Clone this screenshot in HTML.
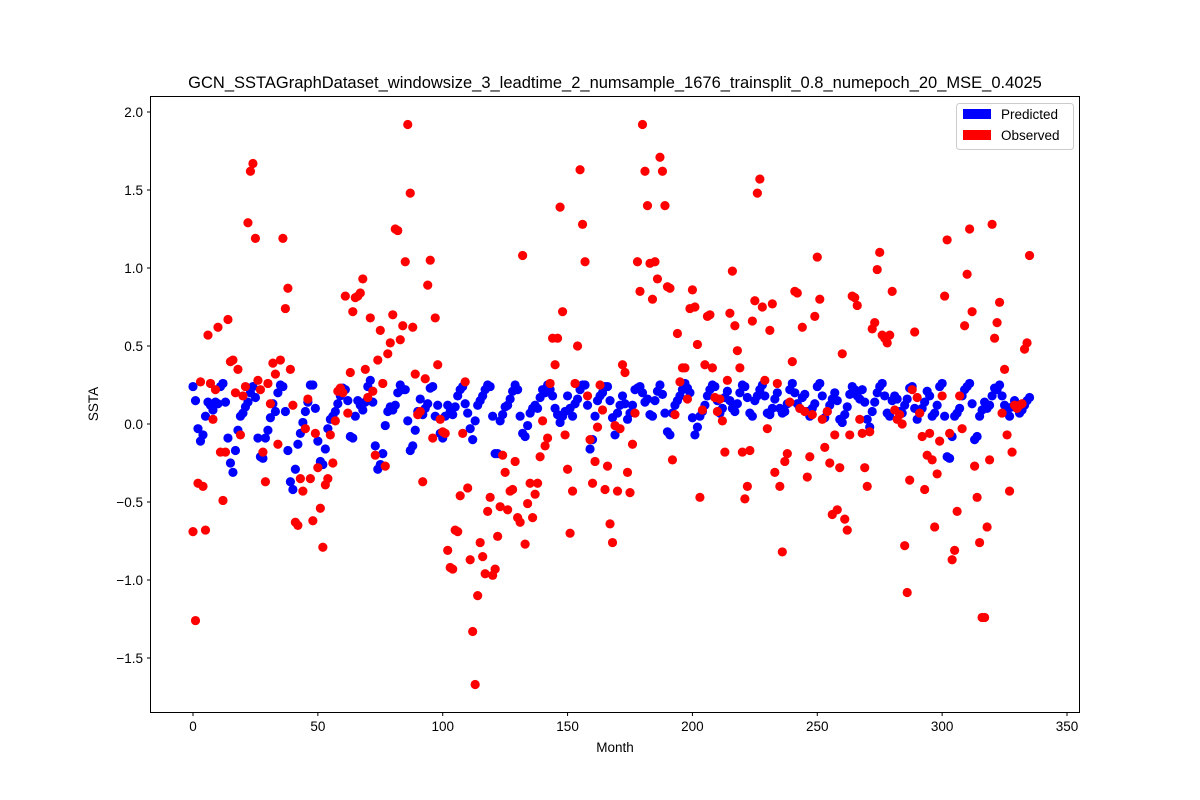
<!DOCTYPE html>
<html><head><meta charset="utf-8"><style>
body{margin:0;background:#fff;}
svg{display:block;font-family:"Liberation Sans","DejaVu Sans",sans-serif;}
</style></head><body>
<svg id="chart" width="1200" height="800">
<rect width="1200" height="800" fill="#fff"/>
<text x="615" y="88" text-anchor="middle" font-size="16.5">GCN_SSTAGraphDataset_windowsize_3_leadtime_2_numsample_1676_trainsplit_0.8_numepoch_20_MSE_0.4025</text>
<g id="marks"></g>
<rect x="150.5" y="96.5" width="929" height="616" fill="none" stroke="#000" stroke-width="1"/>
<g id="axes"></g>
<text x="615" y="752" text-anchor="middle" font-size="13.5">Month</text>
<text x="98" y="404" text-anchor="middle" font-size="13.5" transform="rotate(-90 98 404)">SSTA</text>
<g>
<rect x="956.5" y="103.5" width="117" height="46" rx="3" fill="#fff" fill-opacity="0.8" stroke="#ccc"/>
<rect x="963" y="109" width="28" height="10" fill="#0000ff"/>
<text x="1001" y="119" font-size="13.5">Predicted</text>
<rect x="963" y="130" width="28" height="10" fill="#ff0000"/>
<text x="1001" y="140" font-size="13.5">Observed</text>
</g>
</svg>
<script>
const xTicks=[0,50,100,150,200,250,300,350];
const yTicks=[-1.5,-1.0,-0.5,0.0,0.5,1.0,1.5,2.0];
const predicted=[0.24,0.15,-0.03,-0.11,-0.07,0.05,0.14,0.12,0.09,0.14,
0.13,0.24,0.26,0.14,-0.09,-0.25,-0.31,-0.17,-0.04,0.05,
0.07,0.11,0.14,0.20,0.24,0.17,-0.09,-0.21,-0.22,-0.09,
-0.04,0.04,0.13,0.08,0.20,0.25,0.24,0.08,-0.17,-0.37,
-0.42,-0.29,-0.13,-0.06,0.01,0.08,0.14,0.25,0.25,0.10,
-0.11,-0.24,-0.26,-0.16,-0.03,0.03,0.05,0.08,0.13,0.18,
0.23,0.22,0.15,-0.08,-0.09,0.05,0.15,0.12,0.09,0.14,
0.24,0.28,0.14,-0.14,-0.29,-0.26,-0.19,-0.01,0.08,0.11,
0.09,0.12,0.20,0.25,0.22,0.22,0.02,-0.17,-0.14,-0.04,
0.08,0.16,0.06,0.10,0.13,0.23,0.24,0.05,0.12,-0.06,
-0.09,0.05,0.12,0.08,0.06,0.11,0.18,0.22,0.24,0.13,
0.07,-0.03,-0.10,0.02,0.12,0.15,0.18,0.22,0.25,0.24,
0.05,-0.19,-0.19,0.02,0.06,0.11,0.12,0.16,0.21,0.25,
0.22,0.05,-0.06,-0.08,-0.01,0.07,0.10,0.12,0.10,0.17,
0.22,0.20,0.25,0.22,0.18,0.10,0.06,0.01,0.05,0.08,
0.18,0.10,0.05,0.13,0.16,0.22,0.25,0.25,0.12,-0.16,
-0.10,0.05,0.15,0.18,0.20,0.24,0.24,0.15,0.04,-0.07,
0.07,0.12,0.18,0.13,0.03,0.07,0.12,0.22,0.23,0.24,
0.20,0.14,0.16,0.06,0.05,0.15,0.21,0.25,0.19,0.07,
-0.05,-0.07,0.07,0.12,0.15,0.18,0.22,0.26,0.23,0.20,
0.04,-0.07,-0.02,0.05,0.08,0.12,0.18,0.22,0.25,0.24,
0.15,0.07,0.10,0.17,0.21,0.15,0.10,0.08,0.13,0.20,
0.25,0.24,0.17,0.07,0.05,0.15,0.18,0.22,0.25,0.18,
0.07,0.06,0.10,0.16,0.20,0.10,0.07,0.08,0.13,0.22,
0.26,0.20,0.13,0.10,0.17,0.19,0.08,0.05,0.10,0.13,
0.24,0.26,0.18,0.04,0.08,0.12,0.16,0.20,0.15,0.03,
0.01,0.06,0.11,0.19,0.24,0.22,0.18,0.16,0.22,0.14,
0.03,-0.02,0.08,0.14,0.20,0.24,0.26,0.18,0.07,0.05,
0.15,0.18,0.16,0.08,0.07,0.12,0.16,0.23,0.24,0.10,
0.03,0.07,0.10,0.14,0.21,0.18,0.05,0.07,0.12,0.24,
0.26,0.05,-0.21,-0.22,-0.08,0.05,0.07,0.10,0.18,0.22,
0.24,0.26,0.13,-0.10,-0.08,0.05,0.09,0.14,0.10,0.12,
0.18,0.23,0.22,0.25,0.18,0.12,0.08,0.05,0.11,0.15,
0.12,0.07,0.09,0.12,0.15,0.17];
const observed=[-0.69,-1.26,-0.38,0.27,-0.40,-0.68,0.57,0.26,0.03,0.22,
0.62,-0.18,-0.49,-0.18,0.67,0.40,0.41,0.20,0.35,-0.07,
0.18,0.24,1.29,1.62,1.67,1.19,0.28,0.22,-0.18,-0.37,
0.26,0.13,0.39,0.32,-0.13,0.41,1.19,0.74,0.87,0.35,
0.12,-0.63,-0.65,-0.35,-0.43,-0.03,0.16,-0.35,-0.62,-0.06,
-0.28,-0.54,-0.79,-0.39,-0.35,-0.07,-0.25,0.02,0.21,0.23,
0.20,0.82,0.07,0.33,0.72,0.81,0.82,0.84,0.93,0.35,
0.17,0.68,0.21,-0.20,0.41,0.60,0.26,-0.27,0.45,0.52,
0.70,1.25,1.24,0.54,0.63,1.04,1.92,1.48,0.62,0.32,
0.06,0.08,-0.37,0.29,0.89,1.05,-0.09,0.68,0.38,0.03,
-0.05,-0.06,-0.81,-0.92,-0.93,-0.68,-0.69,-0.46,-0.06,0.27,
-0.41,-0.87,-1.33,-1.67,-1.10,-0.76,-0.85,-0.96,-0.56,-0.47,
-0.97,-0.93,-0.72,-0.53,-0.20,-0.31,-0.55,-0.43,-0.42,-0.24,
-0.60,-0.63,1.08,-0.77,-0.51,-0.38,-0.60,-0.45,-0.38,-0.21,
0.02,-0.14,-0.09,0.26,0.55,0.38,0.55,1.39,0.72,-0.07,
-0.29,-0.70,-0.43,0.26,0.50,1.63,1.28,1.04,0.18,-0.10,
-0.38,-0.24,-0.02,0.25,0.09,-0.42,-0.27,-0.64,-0.76,-0.01,
-0.43,-0.03,0.38,0.33,-0.31,-0.44,-0.13,0.07,1.04,0.85,
1.92,1.62,1.40,1.03,0.80,1.04,0.93,1.71,1.62,1.40,
0.88,0.87,-0.23,0.06,0.58,0.27,0.36,0.36,0.16,0.74,
0.86,0.75,0.51,-0.47,0.09,0.38,0.69,0.70,0.36,0.17,
0.08,0.16,0.02,-0.18,0.28,0.71,0.98,0.63,0.47,0.36,
-0.18,-0.48,-0.40,-0.17,0.66,0.79,1.48,1.57,0.75,0.28,
-0.03,0.60,0.77,-0.31,0.26,-0.40,-0.82,-0.24,-0.19,0.14,
0.40,0.85,0.84,0.10,0.62,0.08,-0.34,-0.21,0.06,0.69,
1.07,0.80,0.03,-0.15,0.08,-0.25,-0.58,-0.07,-0.55,-0.28,
0.45,-0.61,-0.68,-0.07,0.82,0.81,0.76,0.03,-0.06,-0.28,
-0.40,-0.05,0.61,0.65,0.99,1.10,0.57,0.55,0.52,0.57,
0.85,0.09,0.03,0.06,0.00,-0.78,-1.08,-0.36,0.22,0.59,
0.17,0.07,-0.08,-0.42,-0.20,-0.06,-0.23,-0.66,-0.32,-0.11,
0.18,0.82,1.18,-0.06,-0.87,-0.81,-0.56,0.18,-0.03,0.63,
0.96,1.25,0.72,-0.27,-0.47,-0.76,-1.24,-1.24,-0.66,-0.23,
1.28,0.55,0.65,0.78,0.07,0.35,-0.07,-0.43,-0.18,0.12,
0.10,0.12,0.13,0.48,0.52,1.08];

const xScale=v=>193+v*(874/350);
const yScale=v=>424-v*156;
const NS='http://www.w3.org/2000/svg';
const marks=document.getElementById('marks');
const axes=document.getElementById('axes');

function drawSeries(arr,color,name){
  const g=document.createElementNS(NS,'g');
  
  
  arr.forEach((v,i)=>{
    const c=document.createElementNS(NS,'circle');
    c.setAttribute('cx',xScale(i));
    c.setAttribute('cy',yScale(v));
    c.setAttribute('r',4.6);
    c.setAttribute('fill',color);
    
    
    g.appendChild(c);
  });
  marks.appendChild(g);
}
drawSeries(predicted,'#0000ff','predicted');
drawSeries(observed,'#ff0000','observed');

xTicks.forEach(t=>{
  const x=xScale(t);
  const l=document.createElementNS(NS,'line');
  l.setAttribute('x1',x);l.setAttribute('x2',x);
  l.setAttribute('y1',712.5);l.setAttribute('y2',716);
  l.setAttribute('stroke','#000');
  
  
  axes.appendChild(l);
  const tx=document.createElementNS(NS,'text');
  tx.setAttribute('x',x);tx.setAttribute('y',731);
  tx.setAttribute('text-anchor','middle');tx.setAttribute('font-size','13.5');
  tx.textContent=t;
  
  
  axes.appendChild(tx);
});
yTicks.forEach(t=>{
  const y=yScale(t);
  const l=document.createElementNS(NS,'line');
  l.setAttribute('x1',147);l.setAttribute('x2',150.5);
  l.setAttribute('y1',y);l.setAttribute('y2',y);
  l.setAttribute('stroke','#000');
  
  
  axes.appendChild(l);
  const tx=document.createElementNS(NS,'text');
  tx.setAttribute('x',143);tx.setAttribute('y',y+5);
  tx.setAttribute('text-anchor','end');tx.setAttribute('font-size','13.5');
  tx.textContent=(t<0?'\u2212':'')+Math.abs(t).toFixed(1);
  
  
  axes.appendChild(tx);
});
</script>
</body></html>
